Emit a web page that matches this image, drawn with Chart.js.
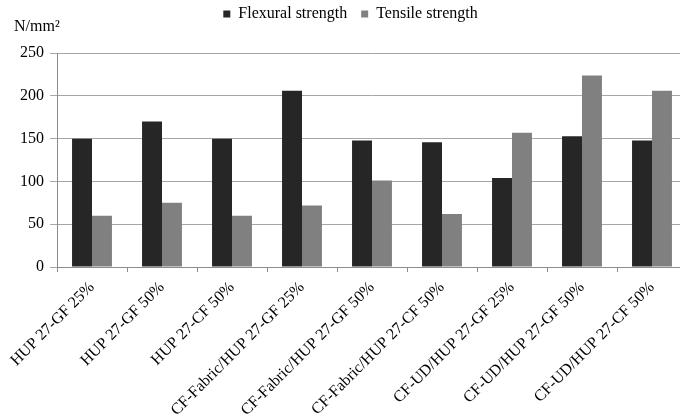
<!DOCTYPE html>
<html>
<head>
<meta charset="utf-8">
<script src="https://cdn.jsdelivr.net/npm/chart.js@4"></script>
<style>
  html, body { margin: 0; padding: 0; background: #fff; overflow: hidden; }
  #wrap { width: 690px; height: 418px; }
</style>
</head>
<body>
<div id="wrap"><canvas id="strength"></canvas></div>
<script>
// categories and values
const categories = [
  'HUP 27-GF 25%', 'HUP 27-GF 50%', 'HUP 27-CF 50%',
  'CF-Fabric/HUP 27-GF 25%', 'CF-Fabric/HUP 27-GF 50%', 'CF-Fabric/HUP 27-CF 50%',
  'CF-UD/HUP 27-GF 25%', 'CF-UD/HUP 27-GF 50%', 'CF-UD/HUP 27-CF 50%'
];
const flexural = [150, 170, 150, 206, 148, 146, 104, 153, 148];
const tensile = [60, 75, 60, 72, 101, 62, 157, 224, 206];
const yTicks = [0, 50, 100, 150, 200, 250];

const serif = "'Liberation Serif', 'Times New Roman', serif";
Chart.defaults.font.family = serif;
Chart.defaults.color = '#000';

const config = {
  type: 'bar',
  data: {
    labels: categories,
    datasets: [
      {
        label: 'Flexural strength',
        data: flexural,
        backgroundColor: '#262626',
        categoryPercentage: 0.57,
        barPercentage: 1.0
      },
      {
        label: 'Tensile strength',
        data: tensile,
        backgroundColor: '#808080',
        categoryPercentage: 0.57,
        barPercentage: 1.0
      }
    ]
  },
  options: {
    responsive: true,
    maintainAspectRatio: false,
    animation: false,
    layout: { padding: { top: -8, right: 3, left: 14, bottom: 0 } },
    plugins: {
      legend: {
        position: 'top',
        maxHeight: 30,
        labels: {
          boxWidth: 7,
          boxHeight: 7,
          padding: 14,
          font: { size: 16 },
          color: '#000'
        }
      },
      title: {
        display: true,
        text: 'N/mm²',
        align: 'start',
        weight: 500,
        font: { size: 16, weight: 'normal' },
        color: '#000',
        padding: { top: -5, bottom: 17 }
      },
      tooltip: { enabled: false }
    },
    scales: {
      x: {
        grid: {
          offset: true,
          drawOnChartArea: false,
          drawTicks: true,
          tickLength: 5,
          color: '#8c8c8c'
        },
        border: { color: '#8c8c8c' },
        ticks: {
          maxRotation: 45,
          minRotation: 45,
          autoSkip: false,
          padding: 6,
          font: { size: 16 },
          color: '#000'
        },
        afterFit: axis => { axis.height = 151; }
      },
      y: {
        min: 0,
        max: 250,
        afterBuildTicks: axis => { axis.ticks = yTicks.map(v => ({ value: v })); },
        grid: {
          color: '#a6a6a6',
          tickLength: 7,
          drawTicks: true
        },
        border: { color: '#8c8c8c' },
        ticks: {
          padding: 6,
          font: { size: 16 },
          color: '#000'
        },
        afterFit: axis => { axis.width = 43; }
      }
    }
  }
};

new Chart(document.getElementById('strength'), config);
</script>
</body>
</html>
